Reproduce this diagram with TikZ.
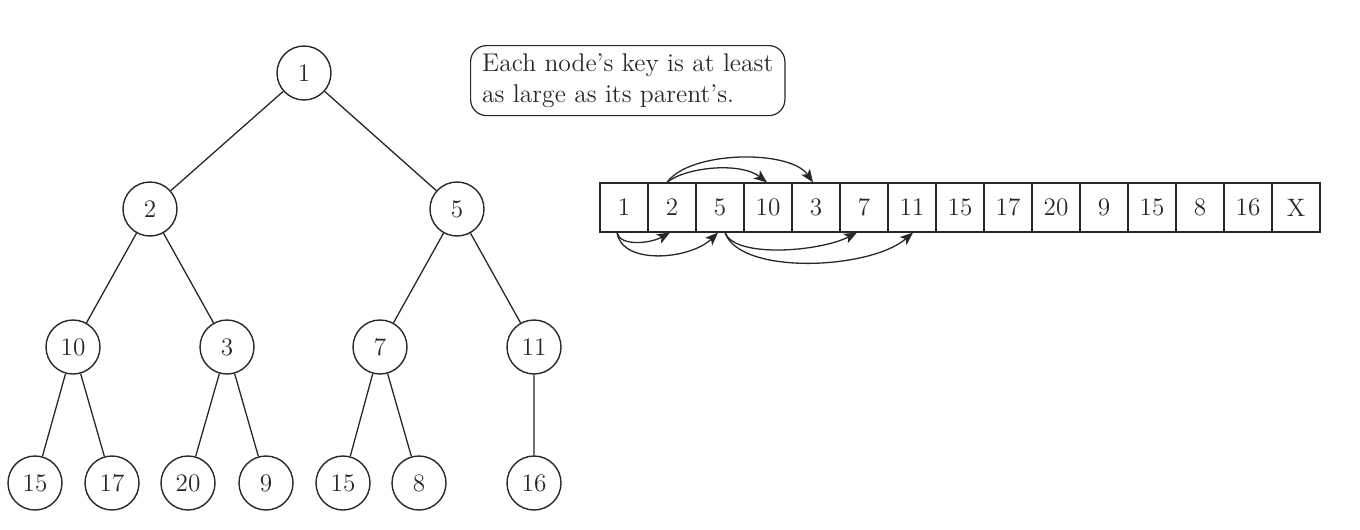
\documentclass[tikz,border=0pt]{standalone}
\usetikzlibrary{arrows.meta,calc}
\definecolor{ink}{RGB}{40,40,40}
\begin{document}
\begin{tikzpicture}[x=0.5pt,y=-0.5pt,
  every node/.style={font=\fontsize{12.6}{14}\selectfont, text=ink},
  tnode/.style={circle,draw=ink,line width=0.7pt,minimum size=27pt,inner sep=0pt},
  cell/.style={rectangle,draw=ink,line width=0.6pt,minimum width=24pt,minimum height=24.5pt,inner sep=0pt},
  edge/.style={draw=ink,line width=0.65pt},
  arr/.style={draw=ink,line width=0.65pt,-{Stealth[length=6.5pt,width=5.2pt,inset=1.6pt]}},
  note/.style={draw=ink,line width=0.6pt,rounded corners=8pt,align=left,inner xsep=5.8pt,inner ysep=4pt,
    font=\fontsize{12.8}{15.5}\selectfont}]
\useasboundingbox (0,0) rectangle (1360,530);
% tree
\node[tnode] (n1) at (304,73) {1};
\node[tnode] (n2) at (150,209) {2};
\node[tnode] (n5) at (457,209) {5};
\node[tnode] (n10) at (73,347) {10};
\node[tnode] (n3) at (227,347) {3};
\node[tnode] (n7) at (380,347) {7};
\node[tnode] (n11) at (534,347) {11};
\node[tnode] (l15a) at (35,483) {15};
\node[tnode] (l17) at (112,483) {17};
\node[tnode] (l20) at (188,483) {20};
\node[tnode] (l9) at (266,483) {9};
\node[tnode] (l15b) at (343,483) {15};
\node[tnode] (l8) at (419,483) {8};
\node[tnode] (l16) at (534,483) {16};
\draw[edge] (n1)--(n2) (n1)--(n5);
\draw[edge] (n2)--(n10) (n2)--(n3) (n5)--(n7) (n5)--(n11);
\draw[edge] (n10)--(l15a) (n10)--(l17) (n3)--(l20) (n3)--(l9);
\draw[edge] (n7)--(l15b) (n7)--(l8) (n11)--(l16);
% note
\node[note,anchor=north west] (note) at (470,45) {Each node's key is at least\\as large as its parent's.};
% array
\foreach \v [count=\i] in {1,2,5,10,3,7,11,15,17,20,9,15,8,16,X}{
  \node[cell] (c\i) at ({600+48*\i-24},207.5) {\v};
}
% arrows top
\coordinate (s2) at ($(c2.north)+(-5,0)$);
\coordinate (t4) at ($(c4.north)+(-1,0)$);
\coordinate (t5) at ($(c5.north)+(-3,0)$);
\draw[arr] (s2) .. controls ($(s2)+(18,-15)$) and ($(t4)+(-27,-21)$) .. (t4);
\draw[arr] (s2) .. controls ($(s2)+(23,-32)$) and ($(t5)+(-23,-33)$) .. (t5);
% arrows bottom
\coordinate (s1) at ($(c1.south)+(-7,0)$);
\coordinate (b2) at ($(c2.south)+(-2,0)$);
\coordinate (b3) at ($(c3.south)+(-2,0)$);
\coordinate (s3) at ($(c3.south)+(5,0)$);
\coordinate (b6) at ($(c6.south)+(-7,0)$);
\coordinate (b7) at ($(c7.south)+(1,0)$);
\draw[arr] (s1) .. controls ($(s1)+(3,14)$) and ($(b2)+(-20,11)$) .. (b2);
\draw[arr] (s1) .. controls ($(s1)+(5,33)$) and ($(b3)+(-28,27)$) .. (b3);
\draw[arr] (s3) .. controls ($(s3)+(10,26)$) and ($(b6)+(-37,19)$) .. (b6);
\draw[arr] (s3) .. controls ($(s3)+(15,43)$) and ($(b7)+(-43,37)$) .. (b7);
\end{tikzpicture}
\end{document}
